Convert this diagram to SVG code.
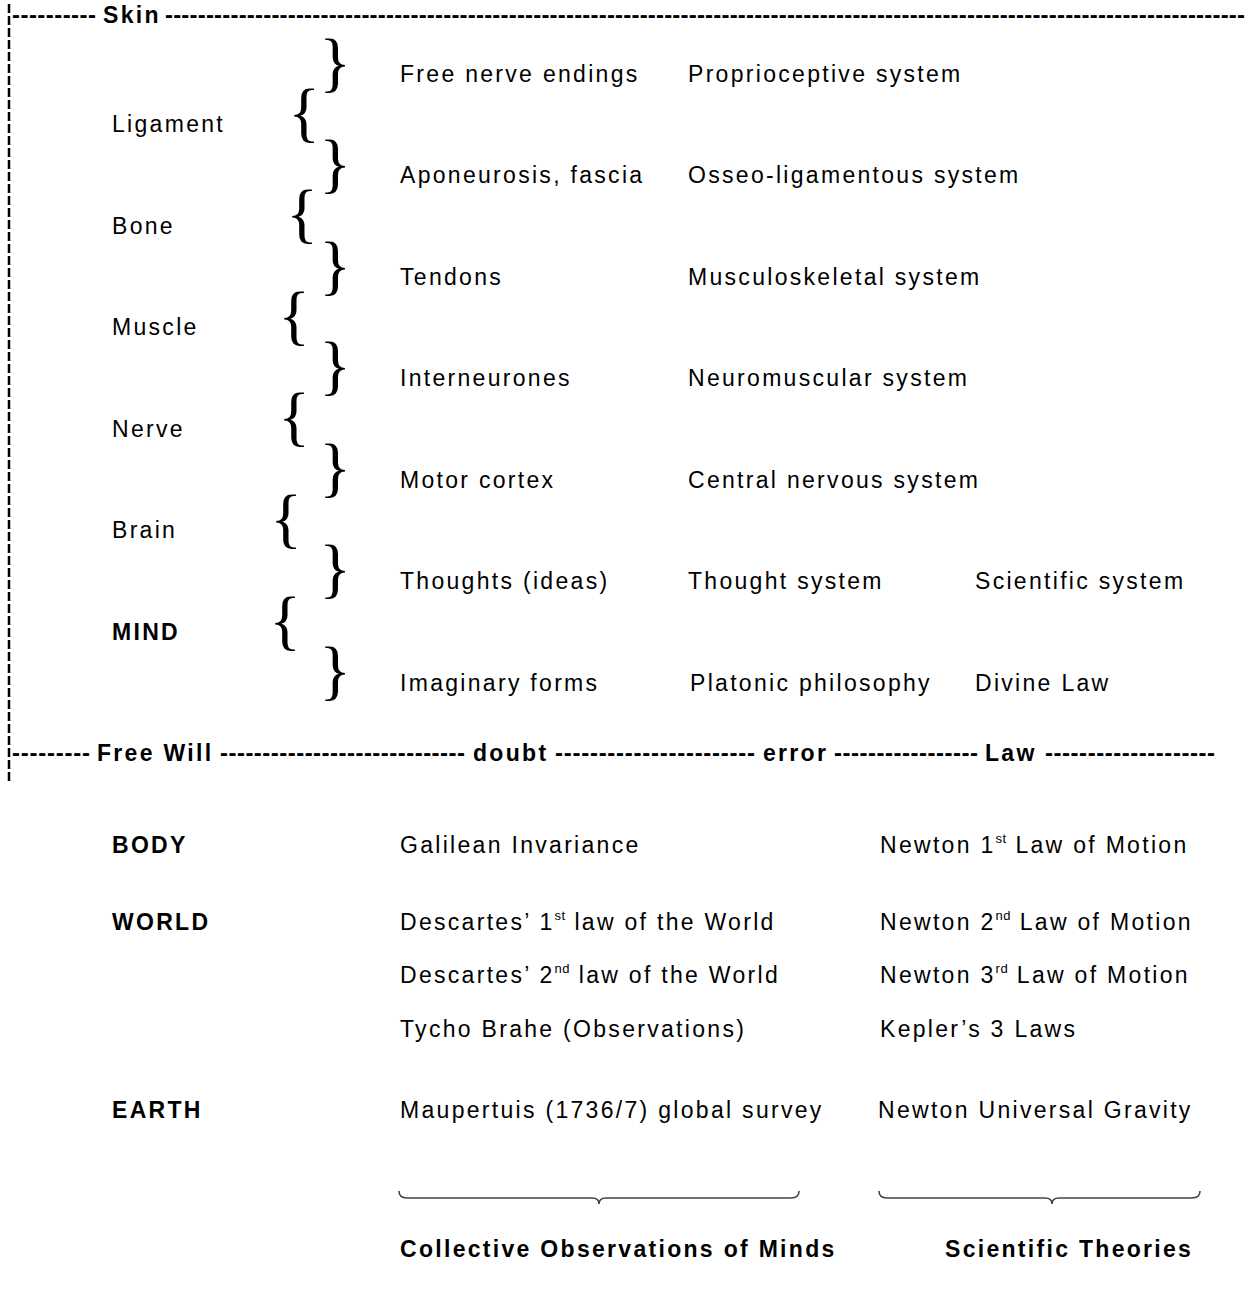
<svg xmlns="http://www.w3.org/2000/svg" width="1255" height="1292" viewBox="0 0 1255 1292">
<style>
text{font-family:"Liberation Sans",Arial,sans-serif;font-size:23px;fill:#000;letter-spacing:2.3px}
.b{font-weight:bold;letter-spacing:2.3px}
.h{font-weight:bold;letter-spacing:0;font-size:24px}
.br{font-family:"Liberation Serif","Times New Roman",serif;font-size:66px;letter-spacing:0;text-anchor:middle}
.sup{font-size:13px;letter-spacing:0.5px}
.hb{fill:none;stroke:#444;stroke-width:1.6}
</style>
<rect width="1255" height="1292" fill="#fff"/>
<g id="frame">
<line x1="9" y1="4" x2="9" y2="782" stroke="#000" stroke-width="2.5" stroke-dasharray="9 3"/>
</g>
<g id="skin-line">
<text class="h" x="12" y="23" textLength="84" lengthAdjust="spacing">----------</text>
<text class="b" x="103" y="23">Skin</text>
<text class="h" x="165" y="23" textLength="1080" lengthAdjust="spacing">------------------------------------------------------------------------------------------------------------------------------------</text>
</g>
<g id="freewill-line">
<text class="h" x="12" y="761" textLength="78" lengthAdjust="spacing">---------</text>
<text class="b" x="97" y="761">Free Will</text>
<text class="h" x="220" y="761" textLength="245" lengthAdjust="spacing">-----------------------------</text>
<text class="b" x="473" y="761">doubt</text>
<text class="h" x="555" y="761" textLength="200" lengthAdjust="spacing">-----------------------</text>
<text class="b" x="763" y="761">error</text>
<text class="h" x="834" y="761" textLength="144" lengthAdjust="spacing">-----------------</text>
<text class="b" x="985" y="761">Law</text>
<text class="h" x="1045" y="761" textLength="170" lengthAdjust="spacing">--------------------</text>
</g>
<g id="left-labels">
<text x="112" y="132">Ligament</text>
<text x="112" y="234">Bone</text>
<text x="112" y="335">Muscle</text>
<text x="112" y="437">Nerve</text>
<text x="112" y="538">Brain</text>
<text class="b" x="112" y="640">MIND</text>
</g>
<g id="braces">
<text class="br" x="335" y="84">}</text>
<text class="br" x="304" y="134">{</text>
<text class="br" x="335" y="185">}</text>
<text class="br" x="302" y="235">{</text>
<text class="br" x="335" y="287">}</text>
<text class="br" x="294" y="337">{</text>
<text class="br" x="335" y="387">}</text>
<text class="br" x="294" y="438">{</text>
<text class="br" x="335" y="489">}</text>
<text class="br" x="286" y="540">{</text>
<text class="br" x="335" y="590">}</text>
<text class="br" x="285" y="642">{</text>
<text class="br" x="335" y="692">}</text>
</g>
<g id="rows">
<text x="400" y="82">Free nerve endings</text>
<text x="688" y="82">Proprioceptive system</text>
<text x="400" y="183">Aponeurosis, fascia</text>
<text x="688" y="183">Osseo-ligamentous system</text>
<text x="400" y="285">Tendons</text>
<text x="688" y="285">Musculoskeletal system</text>
<text x="400" y="386">Interneurones</text>
<text x="688" y="386">Neuromuscular system</text>
<text x="400" y="488">Motor cortex</text>
<text x="688" y="488">Central nervous system</text>
<text x="400" y="589">Thoughts (ideas)</text>
<text x="688" y="589">Thought system</text>
<text x="975" y="589">Scientific system</text>
<text x="400" y="691">Imaginary forms</text>
<text x="690" y="691">Platonic philosophy</text>
<text x="975" y="691">Divine Law</text>
</g>
<g id="lower-labels">
<text class="b" x="112" y="853">BODY</text>
<text class="b" x="112" y="930">WORLD</text>
<text class="b" x="112" y="1118">EARTH</text>
</g>
<g id="observations">
<text x="400" y="853">Galilean Invariance</text>
<text x="400" y="930">Descartes’ 1<tspan class="sup" dy="-10">st</tspan><tspan dy="10"> law of the World</tspan></text>
<text x="400" y="983">Descartes’ 2<tspan class="sup" dy="-10">nd</tspan><tspan dy="10"> law of the World</tspan></text>
<text x="400" y="1037">Tycho Brahe (Observations)</text>
<text x="400" y="1118">Maupertuis (1736/7) global survey</text>
</g>
<g id="theories">
<text x="880" y="853">Newton 1<tspan class="sup" dy="-10">st</tspan><tspan dy="10"> Law of Motion</tspan></text>
<text x="880" y="930">Newton 2<tspan class="sup" dy="-10">nd</tspan><tspan dy="10"> Law of Motion</tspan></text>
<text x="880" y="983">Newton 3<tspan class="sup" dy="-10">rd</tspan><tspan dy="10"> Law of Motion</tspan></text>
<text x="880" y="1037">Kepler’s 3 Laws</text>
<text x="878" y="1118">Newton Universal Gravity</text>
</g>
<g id="connectors">
<path class="hb" d="M399,1191 Q399,1198 407,1198 L592,1198 Q599,1198 599,1204 Q599,1198 606,1198 L791,1198 Q799,1198 799,1191"/>
<path class="hb" d="M879,1191 Q879,1198 887,1198 L1045,1198 Q1052,1198 1052,1204 Q1052,1198 1059,1198 L1192,1198 Q1200,1198 1200,1191"/>
</g>
<g id="summary">
<text class="b" x="400" y="1257">Collective Observations of Minds</text>
<text class="b" x="945" y="1257">Scientific Theories</text>
</g>
</svg>
